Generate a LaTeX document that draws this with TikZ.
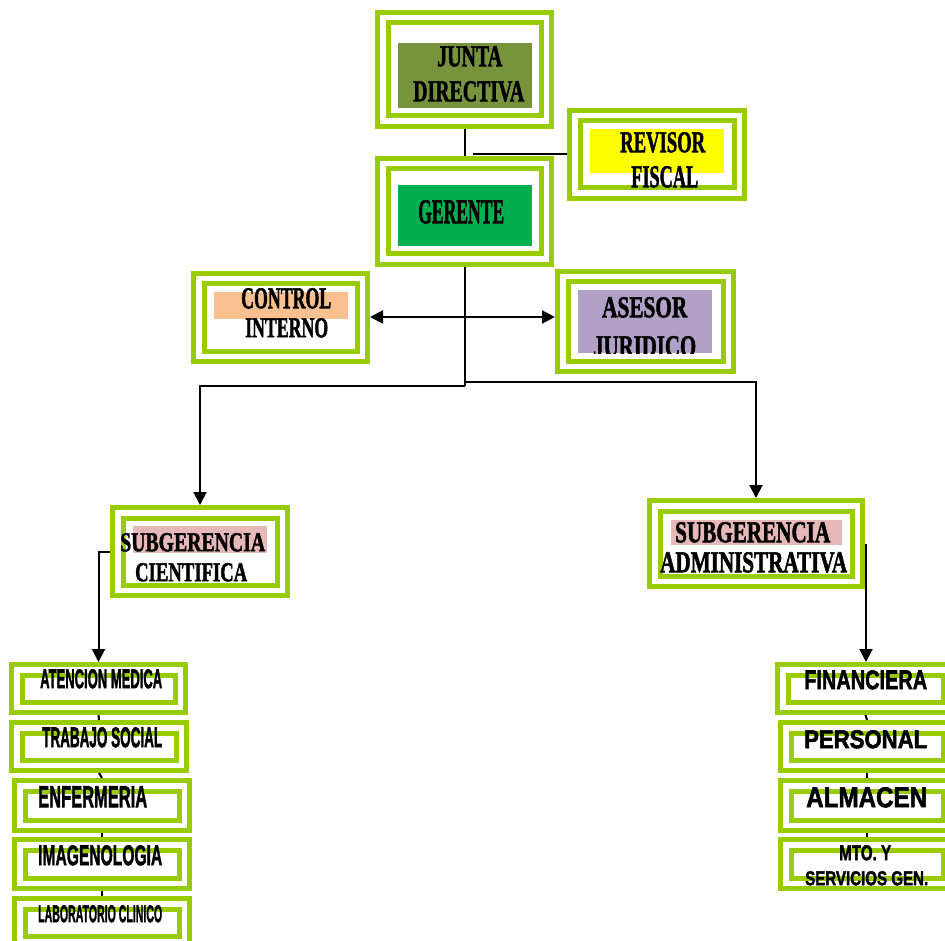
\documentclass[tikz,border=0pt]{standalone}
\usepackage{fontspec}
\usepackage{graphicx}
\setmainfont{Liberation Serif}
\newfontfamily\serifh{Liberation Serif}[BoldFeatures={FakeBold=2}]
\newfontfamily\sansb{Liberation Sans}[BoldFeatures={FakeBold=2}]
\usetikzlibrary{arrows.meta}
\definecolor{grn}{HTML}{99CC00}
\definecolor{olive}{HTML}{77933C}
\definecolor{gergreen}{HTML}{00B050}
\definecolor{yell}{HTML}{FFFF00}
\definecolor{peach}{HTML}{FAC090}
\definecolor{lav}{HTML}{B2A1C7}
\definecolor{pinkf}{HTML}{E6B9B8}
\tikzset{
  frameout/.style={draw=grn,line width=5pt,fill=white,inner sep=0pt,rectangle},
  framein/.style={draw=grn,line width=5pt,inner sep=0pt,rectangle},
  conn/.style={draw=black,line width=2pt},
  conarrow/.style={-{Triangle[length=13pt,width=13pt]}},
  lbl/.style={inner sep=0pt,anchor=north west}
}
\newcommand{\orgbox}[5]{%
  \pgfmathsetmacro{\obCX}{(#2+#4)/2}%
  \pgfmathsetmacro{\obCY}{(#3+#5)/2}%
  \pgfmathsetmacro{\obOW}{#4-#2-5}%
  \pgfmathsetmacro{\obOH}{#5-#3-5}%
  \pgfmathsetmacro{\obIW}{#4-#2-26}%
  \pgfmathsetmacro{\obIH}{#5-#3-26}%
  \node[frameout,minimum width=\obOW pt,minimum height=\obOH pt] (#1) at (\obCX,\obCY) {};%
  \node[framein,minimum width=\obIW pt,minimum height=\obIH pt] (#1-in) at (\obCX,\obCY) {};%
}
\newcommand{\orgtxt}[6]{%
  \node[lbl] (#1) at (#2,#3) {\resizebox{#4pt}{#5pt}{\serifh\bfseries #6}};%
}
\newcommand{\orgtxtS}[6]{%
  \node[lbl] (#1) at (#2,#3) {\resizebox{#4pt}{#5pt}{\sansb\bfseries #6}};%
}
\begin{document}
\begin{tikzpicture}[x=1pt,y=-1pt]
\useasboundingbox (0,0) rectangle (945,941);
\clip (0,0) rectangle (945,941);
\fill[white] (0,0) rectangle (945,941);
% boxes
\orgbox{junta}{375}{10}{554}{129}
\orgbox{revisor}{567}{108}{747}{201}
\orgbox{gerente}{375}{156}{554}{267}
\orgbox{control}{191}{271}{370}{364}
\orgbox{asesor}{555}{269}{736}{374}
\orgbox{subcient}{110}{505}{290}{598}
\orgbox{subadmin}{647}{498}{865}{589}
\orgbox{atencion}{9}{662}{188}{715}
\orgbox{trabajo}{9}{720}{189}{773}
\orgbox{enfermeria}{12}{778}{192}{833}
\orgbox{imagen}{12}{837}{192}{891}
\orgbox{lab}{12}{896}{192}{949}
\orgbox{financiera}{775}{662}{956}{715}
\orgbox{personal}{778}{720}{956}{773}
\orgbox{almacen}{778}{778}{956}{833}
\orgbox{mto}{778}{837}{956}{891}
% colour fills
\fill[olive] (398,43) rectangle (532,108);
\fill[yell] (590,129) rectangle (724,173);
\fill[gergreen] (398,185) rectangle (532,246);
\fill[peach] (214,292) rectangle (348,319);
\fill[lav] (578,290) rectangle (712,353);
\fill[pinkf] (133,526) rectangle (267,553);
\fill[pinkf] (671,520) rectangle (842,545);
% texts
\orgtxt{tjunta}{437}{46}{65}{20}{JUNTA}
\orgtxt{tdirectiva}{413}{81}{111}{20}{DIRECTIVA}
\orgtxt{trevisor}{620}{132}{85}{20}{REVISOR}
\orgtxt{tfiscal}{631}{166}{67}{21}{FISCAL}
\orgtxt{tgerente}{418}{200}{86}{23}{GERENTE}
\orgtxt{tcontrol}{241}{288}{90}{20}{CONTROL}
\orgtxt{tinterno}{245}{318}{83}{19}{INTERNO}
\orgtxt{tasesor}{602}{297}{85}{20}{ASESOR}
\begin{scope}
\clip (578,290) rectangle (712,353);
\orgtxt{tjuridico}{593}{336}{103}{20}{JURIDICO}
\end{scope}
\orgtxt{tsubc}{120}{533}{145}{18}{SUBGERENCIA}
\orgtxt{tcient}{135}{563}{112}{18}{CIENTIFICA}
\orgtxt{tsuba}{675}{522}{155}{20}{SUBGERENCIA}
\orgtxt{tadmin}{660}{552}{187}{20}{ADMINISTRATIVA}
\orgtxtS{tatencion}{40}{669}{122}{19}{ATENCION MEDICA}
\orgtxtS{ttrabajo}{42}{727}{120}{20}{TRABAJO SOCIAL}
\orgtxtS{tenfermeria}{38}{786}{109}{21}{ENFERMERIA}
\orgtxtS{timagen}{38}{845}{124}{20}{IMAGENOLOGIA}
\orgtxtS{tlab}{38}{905}{124}{17}{LABORATORIO CLINICO}
\orgtxtS{tfin}{804}{670}{123}{19}{FINANCIERA}
\orgtxtS{tpers}{804}{730}{123}{18}{PERSONAL}
\orgtxtS{talm}{806}{787}{121}{20}{ALMACEN}
\orgtxtS{tmto}{839}{845}{52}{15}{MTO. Y}
\orgtxtS{tserv}{805}{871}{123}{14}{SERVICIOS GEN.}
% connectors
\draw[conn] (junta.south) -- (gerente.north);
\coordinate (rv) at (473,154.5);
\draw[conn] (rv) -- (rv -| revisor.west);
\coordinate (jM) at (464.5,317);
\coordinate (jL) at (464.5,386);
\coordinate (jR) at (464.5,382);
\draw[conn] (gerente.south) -- (jL);
\draw[conn,conarrow] (jM) -- (jM -| control.east);
\draw[conn,conarrow] (jM) -- (jM -| asesor.west);
\draw[conn,conarrow] (jL) -| (subcient.north);
\draw[conn,conarrow] (jR) -| (subadmin.north);
\draw[conn,conarrow] (subcient.west) -| (atencion.north);
\coordinate (ae) at ([xshift=1pt]subadmin.east);
\draw[conn,conarrow] (ae) -- (ae |- financiera.north);
\draw[conn] (atencion.south) -- (trabajo.north);
\draw[conn] (trabajo.south) -- (enfermeria.north);
\draw[conn] (enfermeria.south) -- (imagen.north);
\draw[conn] (imagen.south) -- (lab.north);
\draw[conn] (financiera.south) -- (personal.north);
\draw[conn] (personal.south) -- (almacen.north);
\draw[conn] (almacen.south) -- (mto.north);
\end{tikzpicture}
\end{document}
